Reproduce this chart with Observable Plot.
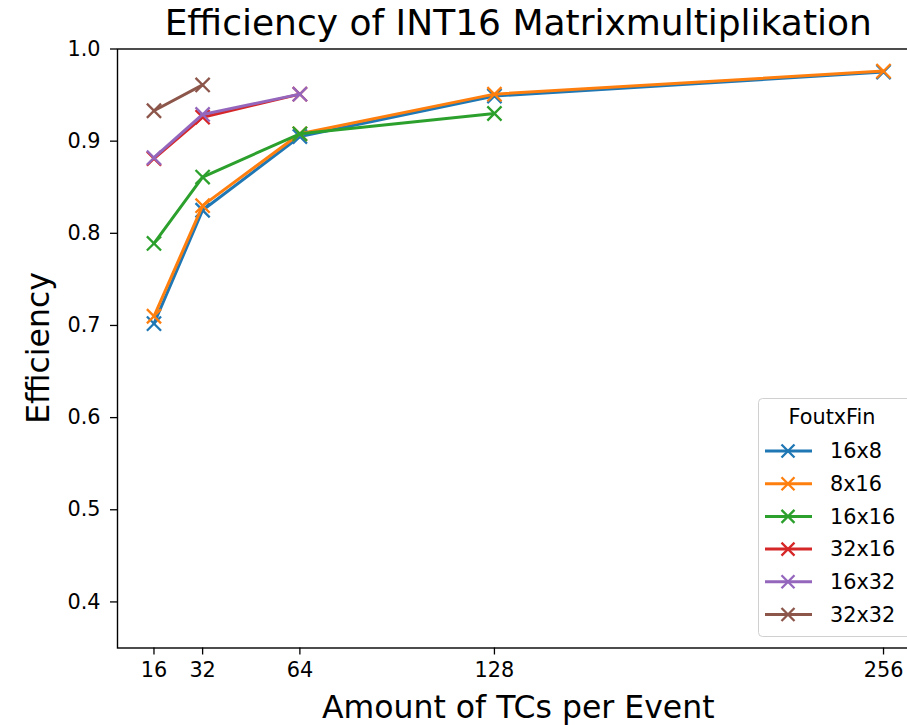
<!DOCTYPE html>
<html>
<head>
<meta charset="utf-8">
<script src="https://cdn.jsdelivr.net/npm/d3@7"></script>
<script src="https://cdn.jsdelivr.net/npm/@observablehq/plot@0.6"></script>
<style>
  html, body { margin: 0; padding: 0; background: #fff; overflow: hidden; }
  #wrap { position: relative; width: 907px; height: 725px; overflow: hidden; font-family: "DejaVu Sans", sans-serif; }
  #chart { position: absolute; left: 0; top: 0; width: 920px; }
  #chart svg { max-width: none !important; }
  .title { position: absolute; left: 117px; width: 802.5px; top: 2px; text-align: center; font-size: 36px; line-height: 42px; color: #000; white-space: nowrap; }
  .xlabel { position: absolute; left: 117px; width: 802.5px; top: 689px; text-align: center; font-size: 31.5px; line-height: 36px; color: #000; white-space: nowrap; }
  .ylabel { position: absolute; left: 38px; top: 348px; transform: translate(-50%, -50%) rotate(-90deg); font-size: 31.5px; line-height: 36px; color: #000; white-space: nowrap; }
  #legend { position: absolute; left: 0; top: 0; pointer-events: none; }
</style>
</head>
<body>
<div id="wrap">
  <div id="chart"></div>
  <div class="title">Efficiency of INT16 Matrixmultiplikation</div>
  <div class="xlabel">Amount of TCs per Event</div>
  <div class="ylabel">Efficiency</div>
  <svg id="legend" width="907" height="725"></svg>
</div>
<script>
// ---- data ----
const tcs = [16, 32, 64, 128, 256];
const series = ["16x8", "8x16", "16x16", "32x16", "16x32", "32x32"];
const eff_16x8  = [0.702, 0.825, 0.905, 0.949, 0.975];
const eff_8x16  = [0.710, 0.830, 0.908, 0.951, 0.976];
const eff_16x16 = [0.789, 0.861, 0.908, 0.930];
const eff_32x16 = [0.881, 0.926, 0.951];
const eff_16x32 = [0.882, 0.929, 0.951];
const eff_32x32 = [0.933, 0.961];
const yTicks = [0.4, 0.5, 0.6, 0.7, 0.8, 0.9, 1.0];
const xTicks = [16, 32, 64, 128, 256];
const colors = ["#1f77b4", "#ff7f0e", "#2ca02c", "#d62728", "#9467bd", "#8c564b"];
const legendTitle = "FoutxFin";

const values = [eff_16x8, eff_8x16, eff_16x16, eff_32x16, eff_16x32, eff_32x32];
const rows = [];
series.forEach((s, i) => values[i].forEach((v, j) => rows.push({series: s, tc: tcs[j], eff: v})));

const marks = [];
series.forEach((s, i) => {
  const d = rows.filter(r => r.series === s);
  marks.push(Plot.line(d, {x: "tc", y: "eff", stroke: colors[i], strokeWidth: 3}));
  marks.push(Plot.dot(d, {x: "tc", y: "eff", symbol: "times", r: 6.5, stroke: colors[i], strokeWidth: 2.3}));
});

const chart = Plot.plot({
  width: 920,
  height: 725,
  marginLeft: 117,
  marginRight: 0.5,
  marginTop: 48.5,
  marginBottom: 77.5,
  style: {fontFamily: "DejaVu Sans", fontSize: "20.8px", color: "#000", background: "transparent", maxWidth: "none"},
  x: {domain: [4, 268]},
  y: {domain: [0.35, 1.0]},
  marks: [
    Plot.axisY({ticks: yTicks, tickFormat: d3.format(".1f"), tickSize: 7, tickPadding: 10, label: null, strokeWidth: 1.3}),
    Plot.axisX({ticks: xTicks, tickFormat: d3.format("d"), tickSize: 7, tickPadding: 7, label: null, strokeWidth: 1.3}),
    ...marks,
    Plot.frame({stroke: "#000", strokeWidth: 1.4})
  ]
});
document.getElementById("chart").appendChild(chart);

// ---- legend ----
const lg = d3.select("#legend");
const bx = 758.5, by = 398.5, bw = 170, bh = 238;
lg.append("rect").attr("x", bx).attr("y", by).attr("width", bw).attr("height", bh)
  .attr("rx", 4).attr("fill", "rgba(255,255,255,0.8)").attr("stroke", "#d0d0d0").attr("stroke-width", 1);
lg.append("text").attr("x", 832).attr("y", 417).attr("text-anchor", "middle").attr("dy", "0.35em")
  .attr("font-family", "DejaVu Sans").attr("font-size", "20.8px").text(legendTitle);
series.forEach((s, i) => {
  const y = 451 + i * 32.7;
  const g = lg.append("g");
  g.append("line").attr("x1", 765).attr("x2", 812).attr("y1", y).attr("y2", y)
    .attr("stroke", colors[i]).attr("stroke-width", 3);
  const r = 6.5;
  g.append("path").attr("d", `M${788 - r},${y - r}L${788 + r},${y + r}M${788 - r},${y + r}L${788 + r},${y - r}`)
    .attr("stroke", colors[i]).attr("stroke-width", 2.3).attr("fill", "none");
  g.append("text").attr("x", 830).attr("y", y).attr("dy", "0.35em")
    .attr("font-family", "DejaVu Sans").attr("font-size", "20.8px").text(s);
});
</script>
</body>
</html>
